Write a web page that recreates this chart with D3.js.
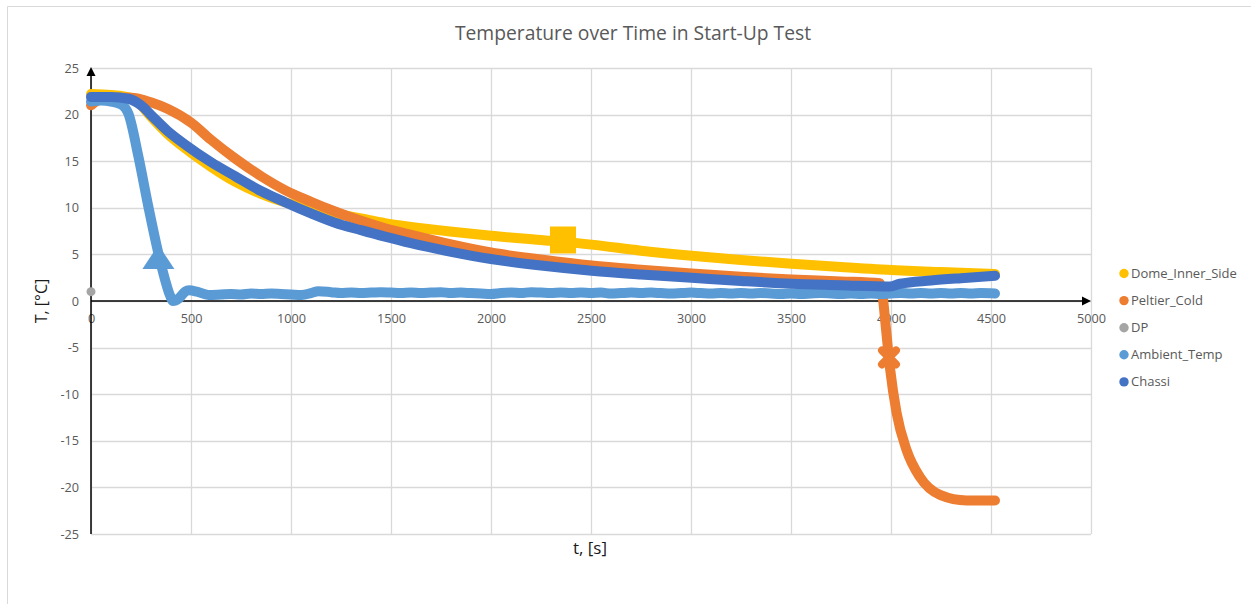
<!DOCTYPE html>
<html>
<head>
<meta charset="utf-8">
<script src="https://cdn.jsdelivr.net/npm/d3@7"></script>
<style>
  body { margin: 0; background: #fff; }
  text { font-family: "Open Sans", sans-serif; }
</style>
</head>
<body>
<script>
// series data: [t (s), T (°C)]
var domeInnerSide = [
    [0, 22.2], [100, 22.1], [200, 21.8], [250, 21.0], [303, 19.7], [380, 18.0],
    [470, 16.4], [600, 14.4], [720, 12.8], [850, 11.5], [970, 10.6], [1100, 9.95],
    [1220, 9.4], [1350, 8.85], [1470, 8.35], [1600, 7.95], [1795, 7.45], [2000, 7.0],
    [2250, 6.55], [2503, 6.05], [2750, 5.4], [3003, 4.85], [3250, 4.4], [3503, 4.0],
    [3750, 3.65], [4025, 3.3], [4250, 3.1], [4520, 2.9]
];
var peltierCold = [
    [0, 21.0], [70, 21.8], [200, 21.8], [303, 21.3], [385, 20.6], [503, 19.1],
    [600, 17.3], [720, 15.3], [850, 13.4], [970, 11.9], [1100, 10.65], [1220, 9.6],
    [1350, 8.6], [1470, 7.8], [1600, 7.1], [1795, 6.1], [2000, 5.2], [2250, 4.45],
    [2503, 3.8], [2750, 3.35], [3003, 2.95], [3250, 2.6], [3503, 2.3], [3750, 2.1],
    [3945, 1.9], [3960, 0.2], [3975, -3.0], [3995, -7.2], [4028, -12], [4078, -16],
    [4145, -18.9], [4245, -20.8], [4378, -21.4], [4520, -21.4]
];
var dp = [[0, 1.0]];
var ambientTemp = [
    [0, 21.4], [50, 21.5], [100, 21.4], [150, 21.1], [187, 20.1], [237, 15.5],
    [287, 10.1], [337, 5.1], [370, 2.3], [395, 0.6], [410, 0.0], [440, 0.3],
    [470, 1.0], [490, 1.15], [530, 1.0], [587, 0.65], [650, 0.7], [700, 0.75],
    [750, 0.7], [800, 0.8], [850, 0.75], [900, 0.8], [950, 0.75], [1000, 0.7],
    [1053, 0.65], [1100, 0.85], [1137, 1.05], [1200, 0.95], [1250, 0.85], [1300, 0.9],
    [1350, 0.85], [1400, 0.9], [1450, 0.95], [1500, 0.9], [1550, 0.85], [1600, 0.9],
    [1650, 0.85], [1700, 0.9], [1750, 0.95], [1800, 0.85], [1850, 0.9], [1900, 0.85],
    [1950, 0.8], [2000, 0.75], [2050, 0.85], [2100, 0.9], [2150, 0.85], [2200, 0.95],
    [2250, 0.9], [2300, 0.85], [2350, 0.9], [2400, 0.85], [2450, 0.9], [2500, 0.85],
    [2550, 0.9], [2600, 0.8], [2650, 0.85], [2700, 0.9], [2750, 0.85], [2800, 0.9],
    [2850, 0.85], [2900, 0.8], [2950, 0.85], [3000, 0.9], [3050, 0.85], [3100, 0.8],
    [3150, 0.85], [3200, 0.8], [3250, 0.85], [3300, 0.8], [3350, 0.85], [3400, 0.8],
    [3450, 0.75], [3500, 0.8], [3550, 0.75], [3600, 0.8], [3650, 0.85], [3700, 0.8],
    [3750, 0.75], [3800, 0.8], [3850, 0.75], [3900, 0.8], [3950, 0.75], [4000, 0.8],
    [4050, 0.85], [4100, 0.8], [4150, 0.85], [4200, 0.8], [4250, 0.85], [4300, 0.8],
    [4350, 0.85], [4400, 0.8], [4450, 0.85], [4520, 0.8]
];
var chassi = [
    [0, 21.9], [100, 21.9], [187, 21.7], [250, 21.0], [303, 19.9], [380, 18.3],
    [470, 16.8], [600, 14.9], [720, 13.4], [850, 11.8], [970, 10.6], [1100, 9.4],
    [1220, 8.4], [1350, 7.6], [1470, 6.9], [1600, 6.2], [1795, 5.3], [2000, 4.5],
    [2250, 3.8], [2503, 3.25], [2750, 2.85], [3003, 2.5], [3250, 2.15], [3503, 1.85],
    [3750, 1.7], [3995, 1.55], [4045, 1.85], [4200, 2.2], [4350, 2.45], [4520, 2.7]
];

// single highlighted points
var domeMarker = [2360, 6.6];
var ambientMarker = [337, 4.3];
var peltierMarker = [3990, -6.05];

var seriesNames = ["Dome_Inner_Side", "Peltier_Cold", "DP", "Ambient_Temp", "Chassi"];
var seriesColors = ["#FFC000", "#ED7D31", "#A5A5A5", "#5B9BD5", "#4472C4"];
var xTicks = [0, 500, 1000, 1500, 2000, 2500, 3000, 3500, 4000, 4500, 5000];
var yTicks = [-25, -20, -15, -10, -5, 0, 5, 10, 15, 20, 25];

var w = 1251;
var h = 604;

var svg = d3.select("body")
    .append("svg")
    .attr("width", w)
    .attr("height", h);

// chart frame (only left and top edges visible)
svg.append("path")
    .attr("d", "M7.5," + h + "V6.5H" + w)
    .attr("fill", "none")
    .attr("stroke", "#D9D9D9");

var xScale = d3.scaleLinear()
    .domain([0, 5000])
    .range([91, 1091]);

var yScale = d3.scaleLinear()
    .domain([-25, 25])
    .range([534, 68]);

// grid
svg.append("g")
    .selectAll("line.h")
    .data(yTicks)
    .enter()
    .append("line")
    .attr("x1", xScale(0))
    .attr("x2", xScale(5000))
    .attr("y1", function(d) { return Math.round(yScale(d)) + 0.5; })
    .attr("y2", function(d) { return Math.round(yScale(d)) + 0.5; })
    .attr("stroke", "#D9D9D9")
    .attr("stroke-width", 1.3);

svg.append("g")
    .selectAll("line.v")
    .data(xTicks)
    .enter()
    .append("line")
    .attr("x1", function(d) { return Math.round(xScale(d)) + 0.5; })
    .attr("x2", function(d) { return Math.round(xScale(d)) + 0.5; })
    .attr("y1", yScale(25))
    .attr("y2", yScale(-25))
    .attr("stroke", "#D9D9D9")
    .attr("stroke-width", 1.3);

// tick labels (plain hyphen minus, no thousands separator)
var plain = function(d) { return String(d); };

var yAxis = svg.append("g")
    .attr("transform", "translate(" + xScale(0) + ",0)")
    .call(d3.axisLeft(yScale).tickValues(yTicks).tickFormat(plain).tickSize(0).tickPadding(12));
yAxis.select(".domain").remove();

var xAxis = svg.append("g")
    .attr("transform", "translate(0," + yScale(0) + ")")
    .call(d3.axisBottom(xScale).tickValues(xTicks).tickFormat(plain).tickSize(0).tickPadding(13));
xAxis.select(".domain").remove();

svg.selectAll(".tick text")
    .attr("font-family", "Open Sans")
    .attr("font-size", "12.7px")
    .attr("fill", "#595959");

// axis lines with arrows
svg.append("line")
    .attr("x1", xScale(0)).attr("x2", xScale(0))
    .attr("y1", yScale(-25)).attr("y2", yScale(25) + 6)
    .attr("stroke", "#000").attr("stroke-width", 1.5);
svg.append("path")
    .attr("d", "M" + xScale(0) + "," + (yScale(25) - 1) + "l-4.5,9h9z")
    .attr("fill", "#000");

svg.append("line")
    .attr("x1", xScale(0)).attr("x2", xScale(5000) - 6)
    .attr("y1", yScale(0)).attr("y2", yScale(0))
    .attr("stroke", "#000").attr("stroke-width", 1.5);
svg.append("path")
    .attr("d", "M" + xScale(5000) + "," + yScale(0) + "l-9,-4.5v9z")
    .attr("fill", "#000");

// series lines
var line = d3.line()
    .x(function(d) { return xScale(d[0]); })
    .y(function(d) { return yScale(d[1]); })
    .curve(d3.curveMonotoneX);

var lineData = [domeInnerSide, peltierCold, dp, ambientTemp, chassi];

lineData.forEach(function(data, i) {
    if (data.length > 1) {
        svg.append("path")
            .datum(data)
            .attr("d", line)
            .attr("fill", "none")
            .attr("stroke", seriesColors[i])
            .attr("stroke-width", 10)
            .attr("stroke-linecap", "round")
            .attr("stroke-linejoin", "round");
    } else {
        svg.append("circle")
            .attr("cx", xScale(data[0][0]))
            .attr("cy", yScale(data[0][1]))
            .attr("r", 4.5)
            .attr("fill", seriesColors[i]);
    }
});

// highlighted markers
svg.append("rect")
    .attr("x", xScale(domeMarker[0]) - 13)
    .attr("y", yScale(domeMarker[1]) - 13)
    .attr("width", 26)
    .attr("height", 27)
    .attr("fill", seriesColors[0]);

svg.append("path")
    .attr("d", "M" + xScale(ambientMarker[0]) + "," + (yScale(ambientMarker[1]) - 16) +
        "l16,24h-32z")
    .attr("fill", seriesColors[3]);

var px = xScale(peltierMarker[0]);
var py = yScale(peltierMarker[1]);
svg.append("path")
    .attr("d", "M" + (px - 7) + "," + (py - 7) + "L" + (px + 7) + "," + (py + 7) +
        "M" + (px + 7) + "," + (py - 7) + "L" + (px - 7) + "," + (py + 7))
    .attr("stroke", seriesColors[1])
    .attr("stroke-width", 8)
    .attr("stroke-linecap", "round");

// titles
svg.append("text")
    .attr("x", 633)
    .attr("y", 40)
    .attr("text-anchor", "middle")
    .attr("font-size", "19.3px")
    .attr("fill", "#595959")
    .text("Temperature over Time in Start-Up Test");

svg.append("text")
    .attr("transform", "translate(47,301) rotate(-90)")
    .attr("text-anchor", "middle")
    .attr("font-size", "16px")
    .attr("fill", "#1a1a1a")
    .text("T, [°C]");

svg.append("text")
    .attr("x", 590)
    .attr("y", 554)
    .attr("text-anchor", "middle")
    .attr("font-size", "17px")
    .attr("fill", "#1a1a1a")
    .text("t, [s]");

// legend
var legend = svg.append("g")
    .selectAll("g")
    .data(seriesNames)
    .enter()
    .append("g")
    .attr("transform", function(d, i) {
        return "translate(1124," + (273.5 + i * 27.1) + ")";
    });

legend.append("circle")
    .attr("r", 4.7)
    .attr("fill", function(d, i) { return seriesColors[i]; });

legend.append("text")
    .attr("x", 7)
    .attr("dy", "0.35em")
    .attr("font-size", "13px")
    .attr("fill", "#595959")
    .text(function(d) { return d; });
</script>
</body>
</html>
